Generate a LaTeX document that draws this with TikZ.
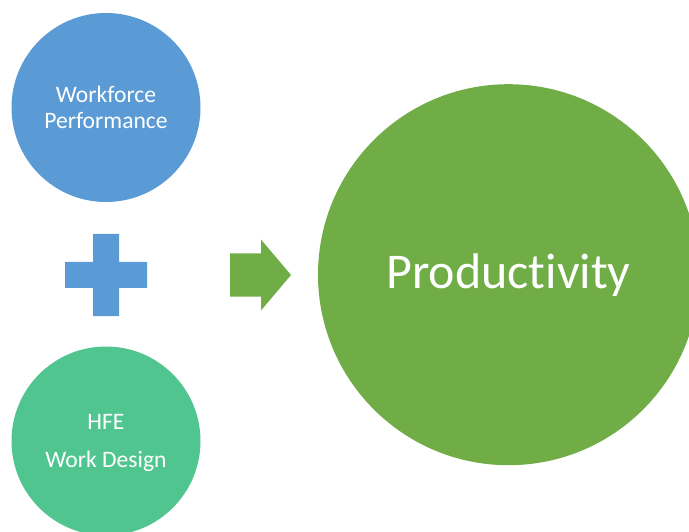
\documentclass[tikz,border=0pt]{standalone}
\usepackage{fontspec}
\setmainfont{Carlito}
\usepackage{tikz}

\definecolor{perfblue}{HTML}{5B9BD5}
\definecolor{hfegreen}{HTML}{50C58F}
\definecolor{prodgreen}{HTML}{70AD47}

\begin{document}
\begin{tikzpicture}[x=1pt,y=-1pt,text=white,
                    font=\fontsize{23.6}{26.4}\selectfont]
  \tikzstyle{bubble}=[circle,draw=none,inner sep=0pt,align=center]

  \useasboundingbox (0,0) rectangle (689,532);
  \clip (0,0) rectangle (689,532);

  \node[bubble,fill=perfblue,minimum size=189]  (perf) at (106,107.5) {Workforce\\Performance};
  \node[bubble,fill=hfegreen,minimum size=189,
        text depth=0pt]                         (hfe)  at (106,441)   {HFE\\[11pt]Work Design};
  \node[bubble,fill=prodgreen,minimum size=381,
        font=\fontsize{50}{60}\selectfont]      (prod) at (508.5,274.7) {Product\kern0pt ivity};

  \coordinate (plus)  at (106,275);
  \coordinate (arrow) at (230,275);

  % plus sign
  \fill[perfblue] (plus) ++(-13,-41) rectangle ++(26,82)
                  (plus) ++(-41,-13) rectangle ++(82,26);
  % block arrow
  \fill[prodgreen] (arrow) ++(0,-21.5) -- ++(31,0) -- ++(0,-14) -- ++(30,35.5)
                   -- ++(-30,35.5) -- ++(0,-14) -- ++(-31,0) -- cycle;
\end{tikzpicture}
\end{document}
